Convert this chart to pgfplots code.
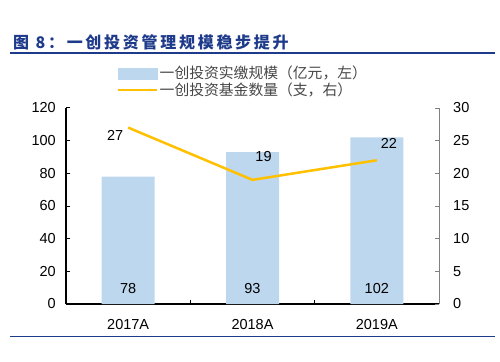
\documentclass[border=0pt]{standalone}
\usepackage{pgfplots}
\pgfplotsset{compat=1.18}
\usepackage{pgfplotstable}
\usepackage{fontspec}
\setmainfont{Liberation Sans}
\newfontfamily\cjk{Noto Sans CJK SC}
\definecolor{barblue}{RGB}{189,215,238}
\definecolor{gold}{RGB}{255,192,0}
\definecolor{titleblue}{RGB}{30,58,138}
\definecolor{axgray}{RGB}{128,128,128}
\definecolor{legtext}{RGB}{70,70,70}
\pgfplotsset{/pgf/number format/assume math mode=true}

\pgfplotstableread{
x y
0 78
1 93
2 102
}\barsdata
\pgfplotstableread{
x y dx dy
0 27 -13 -8
1 19 11 23
2 22 12 17
}\linedata

\begin{document}
\begin{tikzpicture}
\begin{axis}[
  name=ax1,
  scale only axis, width=373bp, height=196bp,
  xmin=-0.5, xmax=2.5, ymin=0, ymax=120,
  axis x line*=bottom, axis y line*=left,
  axis line style={line width=1.2bp, black},
  tick align=inside, major tick length=4bp,
  tick style={line width=1bp, black},
  xtick={0.5,1.5}, xticklabels={},
  extra x ticks={0,1,2},
  extra x tick labels={2017A,2018A,2019A},
  extra x tick style={major tick length=0pt, tick style={draw=none}},
  x tick label style={inner sep=0pt, anchor=north, yshift=-15bp},
  ytick={0,20,...,120},
  y tick label style={inner sep=0pt, anchor=east, xshift=-10bp},
  tick label style={font=\fontsize{14.5bp}{17bp}\selectfont},
  clip=false,
]
\addplot[ybar, bar width=53bp, bar shift=0pt, fill=barblue, draw=none]
  table[x=x, y=y] \barsdata;
\addplot[draw=none, mark=none, nodes near coords, point meta=explicit,
  every node near coord/.append style={anchor=center, yshift=15bp,
    font=\fontsize{14.5bp}{17bp}\selectfont, text=black}]
  table[x=x, y expr=0, meta=y] \barsdata;
\coordinate (O) at (rel axis cs:0,0);
\end{axis}

\begin{axis}[
  scale only axis, width=373bp, height=196bp,
  xmin=-0.5, xmax=2.5, ymin=0, ymax=30,
  axis x line=none, axis y line*=right,
  y axis line style={line width=1bp, axgray},
  tick align=inside, major tick length=4bp,
  ytick style={line width=0.8bp, axgray},
  ytick={0,5,...,30},
  y tick label style={inner sep=0pt, anchor=west, xshift=14bp},
  tick label style={font=\fontsize{14.5bp}{17bp}\selectfont},
  clip=false,
  legend style={at={(rel axis cs:0,1)}, anchor=north west,
    xshift=51bp, yshift=43bp, draw=none, fill=none, inner sep=0pt,
    row sep=0.5bp,
    nodes={inner sep=1bp},
    font=\cjk\fontsize{14.8bp}{16bp}\selectfont, text=legtext,
    /tikz/every even column/.style={column sep=0bp}},
  legend cell align=left,
]
\addlegendimage{legend image code/.code={\fill[barblue] (0bp,-5.5bp) rectangle (39bp,5.5bp);}}
\addlegendentry{一创投资实缴规模（亿元，左）}
\addplot[gold, line width=2.5bp, mark=none,
  legend image code/.code={\draw[gold, line width=2.5bp] (0bp,0bp) -- (39bp,0bp);},
  visualization depends on={\thisrow{dx} \as \dx},
  visualization depends on={\thisrow{dy} \as \dy},
  nodes near coords, point meta=explicit,
  every node near coord/.append style={anchor=center, xshift=\dx bp, yshift=\dy bp,
    font=\fontsize{14.5bp}{17bp}\selectfont, text=black}]
  table[x=x, y=y, meta=y] \linedata;
\addlegendentry{一创投资基金数量（支，右）}
\end{axis}

% title and rules, placed relative to the plot area's lower left corner O = image (66,304)
\node[anchor=west, text=titleblue, inner sep=0pt,
  font=\cjk\bfseries\fontsize{16bp}{18bp}\selectfont\addfontfeature{LetterSpace=17}]
  at ([shift={(-53bp,262bp)}]O) {图 8：一创投资管理规模稳步提升};
\draw[titleblue, line width=1.5bp] ([shift={(-56bp,251bp)}]O) -- ([shift={(429bp,251bp)}]O);
\draw[titleblue, line width=1.5bp] ([shift={(-56bp,-32.7bp)}]O) -- ([shift={(429bp,-32.7bp)}]O);

\pgfresetboundingbox
\path[use as bounding box] ([shift={(-66bp,-58bp)}]O) rectangle ([shift={(434bp,304bp)}]O);
\end{tikzpicture}
\end{document}
